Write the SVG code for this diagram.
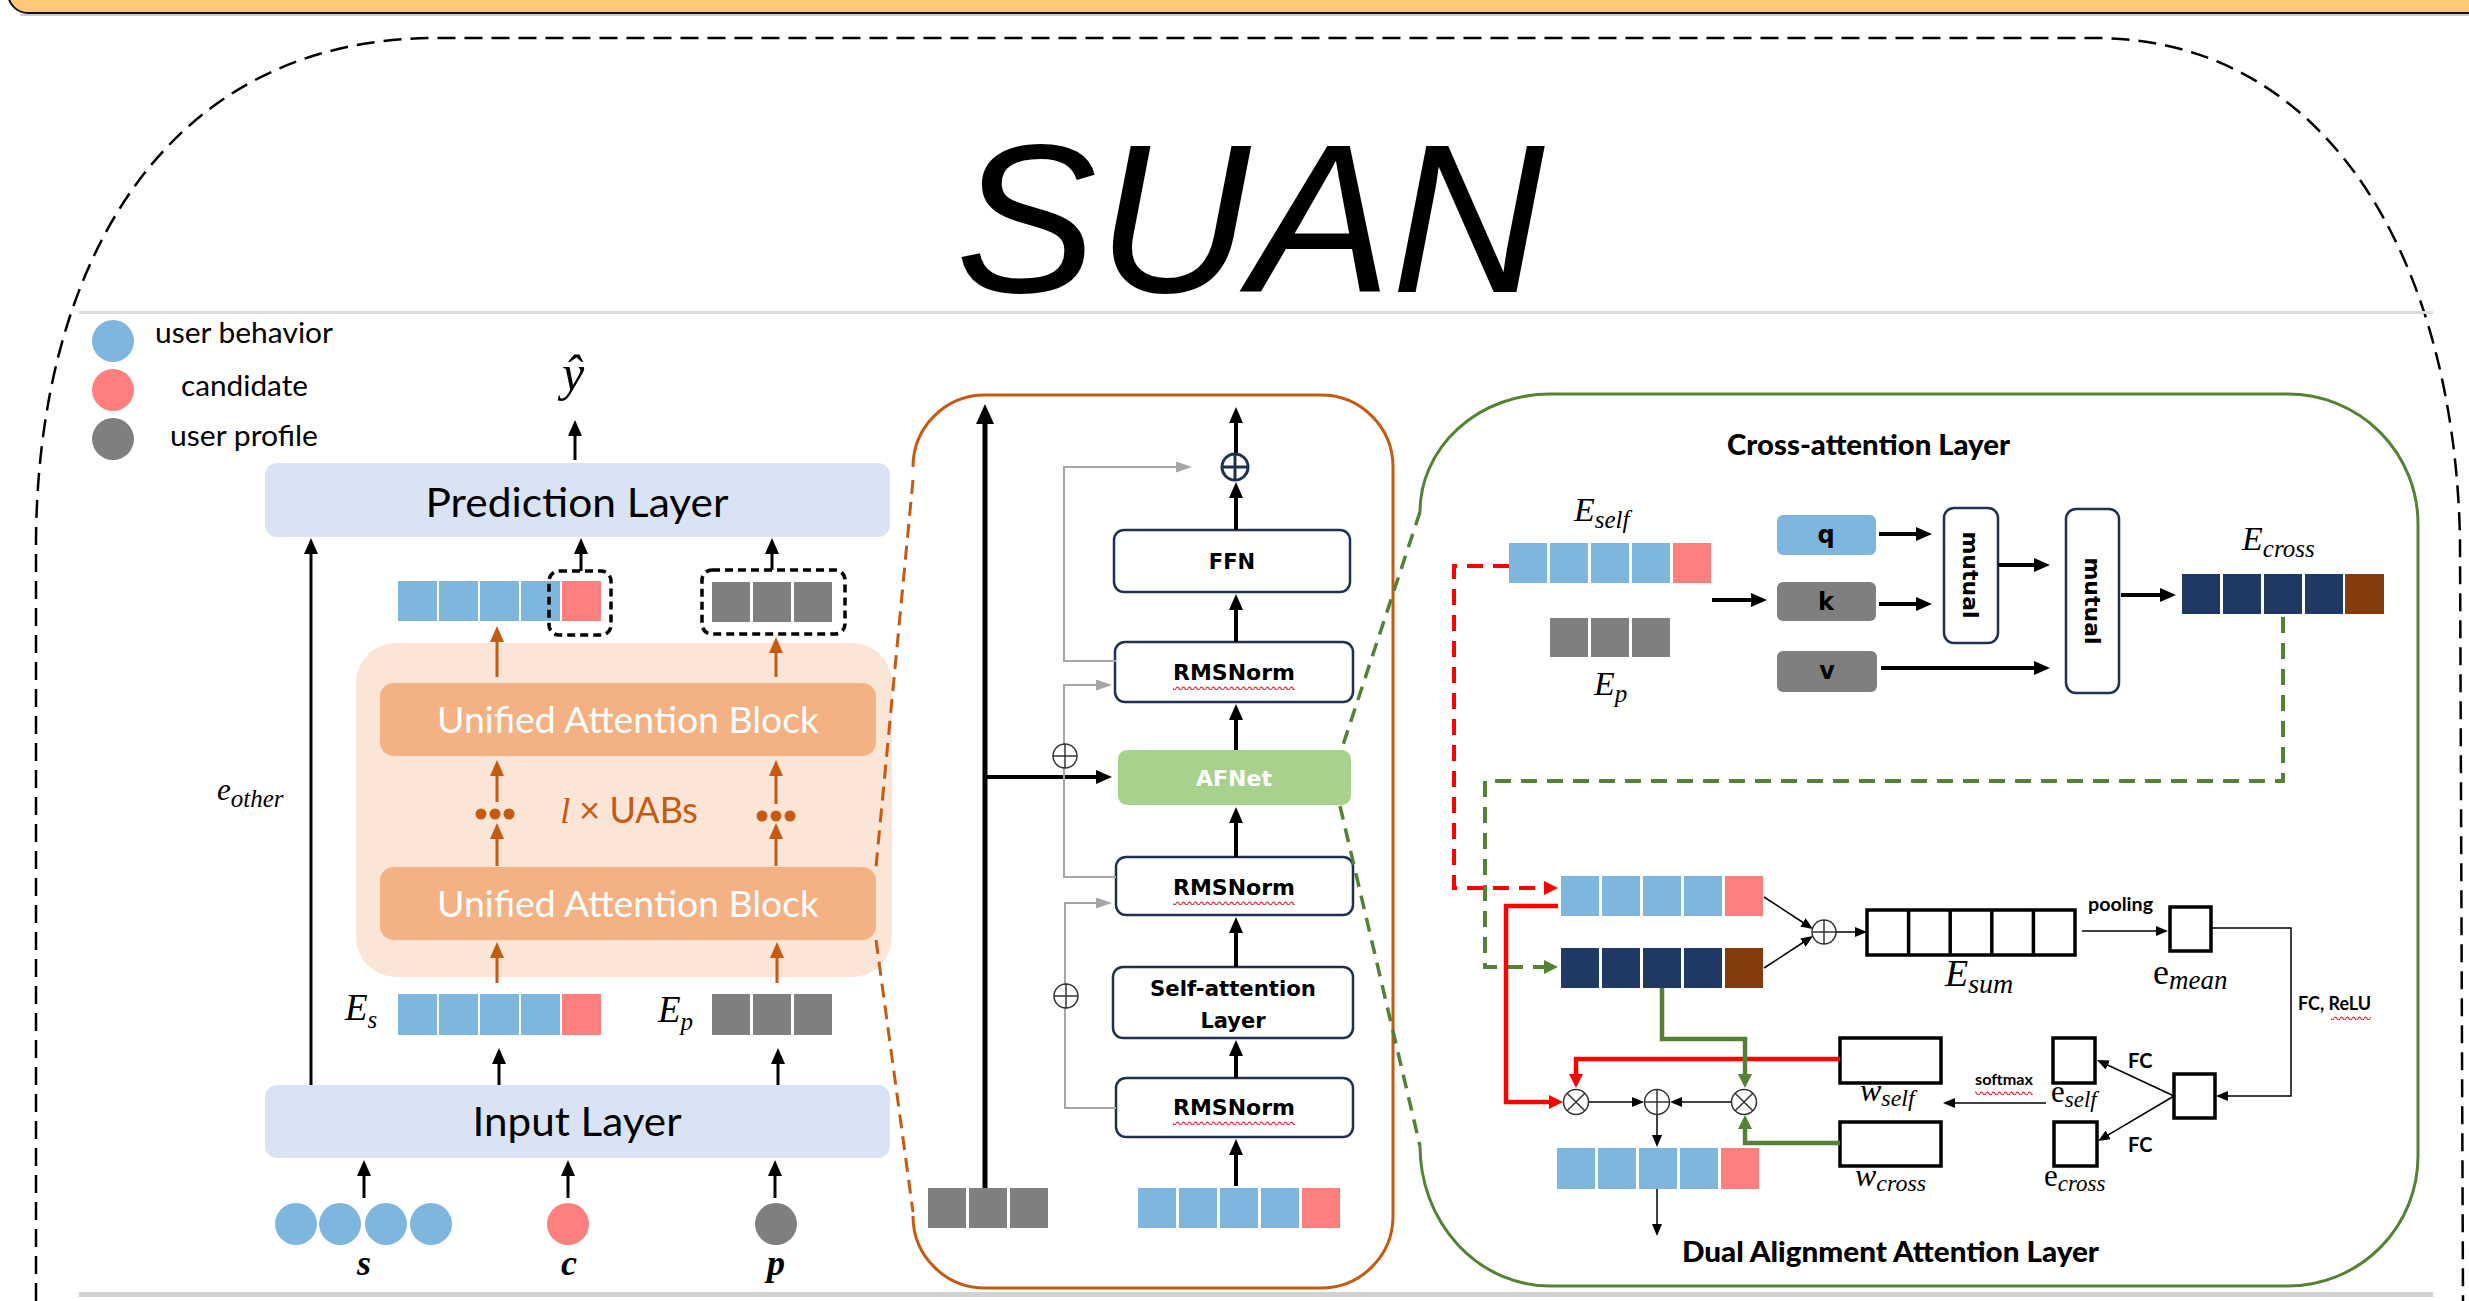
<svg xmlns="http://www.w3.org/2000/svg" width="2469" height="1301" viewBox="0 0 2469 1301">
<defs>
  <marker id="a-k" viewBox="0 0 16 14" markerWidth="16" markerHeight="14" refX="3" refY="7" orient="auto" markerUnits="userSpaceOnUse"><path d="M0 0 L16 7 L0 14 z" fill="#000"/></marker>
  <marker id="a-kb" viewBox="0 0 20 18" markerWidth="20" markerHeight="18" refX="3" refY="9" orient="auto" markerUnits="userSpaceOnUse"><path d="M0 0 L20 9 L0 18 z" fill="#000"/></marker>
  <marker id="a-ks" viewBox="0 0 12 10" markerWidth="12" markerHeight="10" refX="2" refY="5" orient="auto" markerUnits="userSpaceOnUse"><path d="M0 0 L12 5 L0 10 z" fill="#000"/></marker>
  <marker id="a-o" viewBox="0 0 16 14" markerWidth="16" markerHeight="14" refX="3" refY="7" orient="auto" markerUnits="userSpaceOnUse"><path d="M0 0 L16 7 L0 14 z" fill="#C55A11"/></marker>
  <marker id="a-g" viewBox="0 0 16 11" markerWidth="16" markerHeight="11" refX="2" refY="5.5" orient="auto" markerUnits="userSpaceOnUse"><path d="M0 0 L16 5.5 L0 11 z" fill="#A6A6A6"/></marker>
  <marker id="a-r" viewBox="0 0 14 14" markerWidth="14" markerHeight="14" refX="3" refY="7" orient="auto" markerUnits="userSpaceOnUse"><path d="M0 0 L14 7 L0 14 z" fill="#FF0000"/></marker>
  <marker id="a-gr" viewBox="0 0 14 14" markerWidth="14" markerHeight="14" refX="3" refY="7" orient="auto" markerUnits="userSpaceOnUse"><path d="M0 0 L14 7 L0 14 z" fill="#548235"/></marker>
  <pattern id="wavy" width="6" height="5" patternUnits="userSpaceOnUse"><path d="M0 3.5 Q1.5 0.8 3 3.5 T6 3.5" fill="none" stroke="#E8202A" stroke-width="1.1"/></pattern>
</defs>
<style>
  .lbl{font-family:Lato,"Open Sans","Liberation Sans",sans-serif;}
  .math{font-family:"Liberation Serif",serif;font-style:italic;}
  .up{font-family:"Liberation Serif",serif;font-style:normal;}
  .bx{font-family:"DejaVu Sans",sans-serif;font-weight:bold;}
  .blue{fill:#7FB6DE}.red{fill:#FF7F7F}.gray{fill:#7F7F7F}.navy{fill:#203864}.brown{fill:#843C0C}
  .layer{fill:#DAE3F3}
  .uab{fill:#F4B183}
  .nbox{fill:#fff;stroke:#1F3050;stroke-width:2.5}
  .obox{fill:#fff;stroke:#000;stroke-width:3.5}
  .ka{stroke:#000;stroke-width:3;fill:none;marker-end:url(#a-k)}
  .kt{stroke:#000;stroke-width:4;fill:none;marker-end:url(#a-k)}
  .ks{stroke:#000;stroke-width:1.5;fill:none;marker-end:url(#a-ks)}
  .oa{stroke:#C55A11;stroke-width:3;fill:none;marker-end:url(#a-o)}
  .ga{stroke:#A6A6A6;stroke-width:2;fill:none;marker-end:url(#a-g)}
  .rl{stroke:#FF0000;stroke-width:4.5;fill:none;marker-end:url(#a-r)}
  .gl{stroke:#548235;stroke-width:4.5;fill:none;marker-end:url(#a-gr)}
  .dash-o{stroke:#C55A11;stroke-width:3;fill:none;stroke-dasharray:14 8}
  .dash-g{stroke:#548235;stroke-width:3.5;fill:none;stroke-dasharray:14 9}
  .op{fill:#fff;stroke:#333;stroke-width:1.5}
</style>

<!-- page furniture -->
<rect x="8" y="-30" width="2500" height="43" rx="20" fill="#FFC878" stroke="#111" stroke-width="2"/>
<line x1="20" y1="15" x2="2469" y2="15" stroke="#bbb" stroke-width="1.5"/>
<path d="M36 1301 L36 540 C38 270 160 42 430 38 L2100 38 C2335 42 2455 270 2460 540 L2463 1301" fill="none" stroke="#000" stroke-width="2.5" stroke-dasharray="18 9"/>
<text x="1250" y="292" font-family="'Liberation Sans',Arial,sans-serif" font-style="italic" font-size="212" text-anchor="middle" fill="#000">SUAN</text>
<rect x="79" y="311" width="2354" height="3" fill="#DCDCDC"/>
<rect x="79" y="1292" width="2354" height="5" fill="#D2D2D2"/>

<!-- legend -->
<g id="legend">
  <circle cx="113" cy="341" r="21" class="blue"/>
  <circle cx="113" cy="390" r="21" class="red"/>
  <circle cx="113" cy="439" r="21" class="gray"/>
  <text class="lbl" x="155" y="343" font-size="28" textLength="178" lengthAdjust="spacingAndGlyphs">user behavior</text>
  <text class="lbl" x="181" y="396" font-size="28" textLength="127" lengthAdjust="spacingAndGlyphs">candidate</text>
  <text class="lbl" x="170" y="446" font-size="28" textLength="148" lengthAdjust="spacingAndGlyphs">user profile</text>
</g>

<!-- left: overall model -->
<g id="y-hat"><text class="math" x="573" y="390" font-size="50" text-anchor="middle">ŷ</text></g>
<g id="prediction-layer">
  <rect x="265" y="463" width="625" height="74" rx="12" class="layer"/>
  <text class="lbl" x="577" y="517" font-size="41" text-anchor="middle" textLength="303" lengthAdjust="spacingAndGlyphs">Prediction Layer</text>
</g>
<g id="out-seq">
  <rect x="398" y="581" width="39" height="40" class="blue"/>
  <rect x="439" y="581" width="39" height="40" class="blue"/>
  <rect x="480" y="581" width="39" height="40" class="blue"/>
  <rect x="521" y="581" width="39" height="40" class="blue"/>
  <rect x="562" y="581" width="39" height="40" class="red"/>
  <rect x="549" y="571" width="62" height="64" rx="10" fill="none" stroke="#000" stroke-width="3.5" stroke-dasharray="8 5"/>
</g>
<g id="out-profile">
  <rect x="712" y="582" width="38" height="40" class="gray"/>
  <rect x="753" y="582" width="38" height="40" class="gray"/>
  <rect x="794" y="582" width="38" height="40" class="gray"/>
  <rect x="702" y="570" width="143" height="64" rx="10" fill="none" stroke="#000" stroke-width="3.5" stroke-dasharray="8 5"/>
</g>
<g id="uab-stack">
  <rect x="356" y="643" width="536" height="334" rx="40" fill="#FBE5D6"/>
  <circle cx="481" cy="814" r="5.5" fill="#C55A11"/><circle cx="495" cy="814" r="5.5" fill="#C55A11"/><circle cx="509" cy="814" r="5.5" fill="#C55A11"/>
  <circle cx="762" cy="816" r="5.5" fill="#C55A11"/><circle cx="776" cy="816" r="5.5" fill="#C55A11"/><circle cx="790" cy="816" r="5.5" fill="#C55A11"/>
  <text x="629" y="823" font-size="36" fill="#C55A11" text-anchor="middle"><tspan class="math">l</tspan><tspan class="lbl"> × UABs</tspan></text>
</g>
<g id="uab-1">
  <rect x="380" y="683" width="496" height="73" rx="14" class="uab"/>
  <text class="lbl" x="628" y="733" font-size="37" fill="#fff" text-anchor="middle" textLength="382" lengthAdjust="spacingAndGlyphs">Unified Attention Block</text>
</g>
<g id="uab-2">
  <rect x="380" y="867" width="496" height="73" rx="14" class="uab"/>
  <text class="lbl" x="628" y="917" font-size="37" fill="#fff" text-anchor="middle" textLength="382" lengthAdjust="spacingAndGlyphs">Unified Attention Block</text>
</g>
<g id="emb-s">
  <text class="math" x="345" y="1020" font-size="37">E<tspan font-size="25" dy="8">s</tspan></text>
  <rect x="398" y="994" width="39" height="41" class="blue"/>
  <rect x="439" y="994" width="39" height="41" class="blue"/>
  <rect x="480" y="994" width="39" height="41" class="blue"/>
  <rect x="521" y="994" width="39" height="41" class="blue"/>
  <rect x="562" y="994" width="39" height="41" class="red"/>
</g>
<g id="emb-p">
  <text class="math" x="658" y="1022" font-size="37">E<tspan font-size="25" dy="8">p</tspan></text>
  <rect x="712" y="994" width="38" height="41" class="gray"/>
  <rect x="753" y="994" width="38" height="41" class="gray"/>
  <rect x="794" y="994" width="38" height="41" class="gray"/>
</g>
<g id="input-layer">
  <rect x="265" y="1085" width="625" height="73" rx="12" class="layer"/>
  <text class="lbl" x="577" y="1136" font-size="41" text-anchor="middle" textLength="209" lengthAdjust="spacingAndGlyphs">Input Layer</text>
</g>
<g id="inputs">
  <circle cx="296" cy="1224" r="21" class="blue"/>
  <circle cx="340" cy="1224" r="21" class="blue"/>
  <circle cx="386" cy="1224" r="21" class="blue"/>
  <circle cx="431" cy="1224" r="21" class="blue"/>
  <circle cx="568" cy="1224" r="21" class="red"/>
  <circle cx="776" cy="1224" r="21" class="gray"/>
  <text class="math" x="364" y="1275" font-size="36" font-weight="bold" text-anchor="middle">s</text>
  <text class="math" x="569" y="1275" font-size="36" font-weight="bold" text-anchor="middle">c</text>
  <text class="math" x="776" y="1275" font-size="36" font-weight="bold" text-anchor="middle">p</text>
</g>
<g id="e-other-label"><text class="math" x="217" y="800" font-size="31">e<tspan font-size="25" dy="7">other</tspan></text></g>

<!-- middle: unified attention block detail -->
<g id="uab-detail">
  <path d="M913 467 A72 72 0 0 1 985 395 L1321 395 A72 72 0 0 1 1393 467 L1393 1216 A72 72 0 0 1 1321 1288 L985 1288 A72 72 0 0 1 913 1216" fill="none" stroke="#C55A11" stroke-width="3"/>
</g>
<g id="uab-profile-in">
  <rect x="928" y="1188" width="38" height="40" class="gray"/>
  <rect x="969" y="1188" width="38" height="40" class="gray"/>
  <rect x="1010" y="1188" width="38" height="40" class="gray"/>
</g>
<g id="uab-seq-in">
  <rect x="1138" y="1188" width="38" height="40" class="blue"/>
  <rect x="1179" y="1188" width="38" height="40" class="blue"/>
  <rect x="1220" y="1188" width="38" height="40" class="blue"/>
  <rect x="1261" y="1188" width="38" height="40" class="blue"/>
  <rect x="1302" y="1188" width="38" height="40" class="red"/>
</g>
<g id="rmsnorm-1">
  <rect x="1116" y="1078" width="237" height="59" rx="10" class="nbox"/>
  <text class="bx" x="1234" y="1115" font-size="22" text-anchor="middle">RMSNorm</text>
  <rect x="1173" y="1120" width="122" height="5" fill="url(#wavy)"/>
</g>
<g id="self-attention">
  <rect x="1113" y="967" width="240" height="71" rx="10" class="nbox"/>
  <text class="bx" x="1233" y="996" font-size="21" text-anchor="middle" textLength="166" lengthAdjust="spacingAndGlyphs">Self-attention</text>
  <text class="bx" x="1233" y="1028" font-size="21" text-anchor="middle">Layer</text>
</g>
<g id="rmsnorm-2">
  <rect x="1116" y="857" width="237" height="58" rx="10" class="nbox"/>
  <text class="bx" x="1234" y="895" font-size="22" text-anchor="middle">RMSNorm</text>
  <rect x="1173" y="900" width="122" height="5" fill="url(#wavy)"/>
</g>
<g id="afnet">
  <rect x="1118" y="750" width="233" height="55" rx="9" fill="#A9D18E"/>
  <text class="bx" x="1234" y="786" font-size="22" fill="#fff" text-anchor="middle">AFNet</text>
</g>
<g id="rmsnorm-3">
  <rect x="1115" y="642" width="238" height="60" rx="10" class="nbox"/>
  <text class="bx" x="1234" y="680" font-size="22" text-anchor="middle">RMSNorm</text>
  <rect x="1173" y="685" width="122" height="5" fill="url(#wavy)"/>
</g>
<g id="ffn">
  <rect x="1114" y="530" width="236" height="62" rx="10" class="nbox"/>
  <text class="bx" x="1232" y="569" font-size="21" text-anchor="middle">FFN</text>
</g>

<!-- right: cross-attention + dual alignment -->
<g id="afnet-detail">
  <path d="M1420 512 A130 118 0 0 1 1550 394 L2288 394 A130 130 0 0 1 2418 524 L2418 1156 A130 130 0 0 1 2288 1286 L1550 1286 A130 140 0 0 1 1420 1146" fill="none" stroke="#548235" stroke-width="3"/>
  <text class="lbl" x="1727" y="455" font-size="28" font-weight="900" textLength="283" lengthAdjust="spacingAndGlyphs">Cross-attention Layer</text>
  <text class="lbl" x="1682" y="1262" font-size="29" font-weight="900" textLength="417" lengthAdjust="spacingAndGlyphs">Dual Alignment Attention Layer</text>
</g>
<g id="e-self">
  <text class="math" x="1574" y="521" font-size="34">E<tspan font-size="25" dy="7">self</tspan></text>
  <rect x="1509" y="543" width="38" height="40" class="blue"/>
  <rect x="1550" y="543" width="38" height="40" class="blue"/>
  <rect x="1591" y="543" width="38" height="40" class="blue"/>
  <rect x="1632" y="543" width="38" height="40" class="blue"/>
  <rect x="1673" y="543" width="38" height="40" class="red"/>
</g>
<g id="e-p">
  <rect x="1550" y="618" width="38" height="39" class="gray"/>
  <rect x="1591" y="618" width="38" height="39" class="gray"/>
  <rect x="1632" y="618" width="38" height="39" class="gray"/>
  <text class="math" x="1594" y="695" font-size="34">E<tspan font-size="25" dy="7">p</tspan></text>
</g>
<g id="q"><rect x="1777" y="515" width="99" height="40" rx="6" class="blue"/><text class="bx" x="1826" y="543" font-size="24" text-anchor="middle">q</text></g>
<g id="k"><rect x="1777" y="582" width="99" height="39" rx="6" class="gray"/><text class="bx" x="1826" y="610" font-size="24" text-anchor="middle">k</text></g>
<g id="v"><rect x="1777" y="651" width="100" height="41" rx="6" class="gray"/><text class="bx" x="1827" y="679" font-size="24" text-anchor="middle">v</text></g>
<g id="mutual-1">
  <rect x="1944" y="508" width="54" height="135" rx="10" class="nbox"/>
  <text class="bx" font-size="22" text-anchor="middle" transform="translate(1963 575) rotate(90)">mutual</text>
</g>
<g id="mutual-2">
  <rect x="2066" y="509" width="53" height="184" rx="10" class="nbox"/>
  <text class="bx" font-size="22" text-anchor="middle" transform="translate(2085 601) rotate(90)">mutual</text>
</g>
<g id="e-cross">
  <text class="math" x="2242" y="550" font-size="34">E<tspan font-size="25" dy="7">cross</tspan></text>
  <rect x="2182" y="574" width="38" height="40" class="navy"/>
  <rect x="2223" y="574" width="38" height="40" class="navy"/>
  <rect x="2264" y="574" width="38" height="40" class="navy"/>
  <rect x="2305" y="574" width="38" height="40" class="navy"/>
  <rect x="2345" y="574" width="39" height="40" class="brown"/>
</g>
<g id="daa-self">
  <rect x="1561" y="876" width="38" height="40" class="blue"/>
  <rect x="1602" y="876" width="38" height="40" class="blue"/>
  <rect x="1643" y="876" width="38" height="40" class="blue"/>
  <rect x="1684" y="876" width="38" height="40" class="blue"/>
  <rect x="1725" y="876" width="38" height="40" class="red"/>
</g>
<g id="daa-cross">
  <rect x="1561" y="948" width="38" height="40" class="navy"/>
  <rect x="1602" y="948" width="38" height="40" class="navy"/>
  <rect x="1643" y="948" width="38" height="40" class="navy"/>
  <rect x="1684" y="948" width="38" height="40" class="navy"/>
  <rect x="1725" y="948" width="38" height="40" class="brown"/>
</g>
<g id="e-sum">
  <rect x="1867" y="910" width="208" height="45" class="obox"/>
  <path d="M1908.6 910 V955 M1950.2 910 V955 M1991.8 910 V955 M2033.4 910 V955" stroke="#000" stroke-width="3.5"/>
  <text class="math" x="1945" y="986" font-size="38">E<tspan font-size="28" dy="7">sum</tspan></text>
</g>
<g id="e-mean">
  <rect x="2170" y="907" width="41" height="44" class="obox"/>
  <text x="2153" y="984" font-size="36"><tspan class="up">e</tspan><tspan class="math" font-size="27" dy="5">mean</tspan></text>
</g>
<g id="fc-hidden"><rect x="2174" y="1074" width="41" height="44" class="obox"/></g>
<g id="e-self-w">
  <rect x="2053" y="1038" width="42" height="45" class="obox"/>
  <text x="2051" y="1102" font-size="31"><tspan class="up">e</tspan><tspan class="math" font-size="23" dy="5">self</tspan></text>
</g>
<g id="e-cross-w">
  <rect x="2054" y="1122" width="43" height="44" class="obox"/>
  <text x="2044" y="1186" font-size="31"><tspan class="up">e</tspan><tspan class="math" font-size="23" dy="5">cross</tspan></text>
</g>
<g id="w-self">
  <rect x="1840" y="1038" width="101" height="45" class="obox"/>
  <text class="math" x="1860" y="1101" font-size="32">w<tspan font-size="24" dy="5">self</tspan></text>
</g>
<g id="w-cross">
  <rect x="1840" y="1122" width="101" height="44" class="obox"/>
  <text class="math" x="1855" y="1186" font-size="32">w<tspan font-size="24" dy="5">cross</tspan></text>
</g>
<g id="daa-out">
  <rect x="1557" y="1148" width="38" height="41" class="blue"/>
  <rect x="1598" y="1148" width="38" height="41" class="blue"/>
  <rect x="1639" y="1148" width="38" height="41" class="blue"/>
  <rect x="1680" y="1148" width="38" height="41" class="blue"/>
  <rect x="1721" y="1148" width="38" height="41" class="red"/>
</g>
<g id="edge-labels">
  <text class="lbl" x="2088" y="911" font-size="18" font-weight="bold" textLength="65" lengthAdjust="spacingAndGlyphs">pooling</text>
  <text class="lbl" x="2298" y="1010" font-size="18" font-weight="bold" textLength="73" lengthAdjust="spacingAndGlyphs">FC, ReLU</text>
  <rect x="2331" y="1015" width="40" height="5" fill="url(#wavy)"/>
  <text class="lbl" x="2128" y="1068" font-size="20" font-weight="bold">FC</text>
  <text class="lbl" x="2128" y="1152" font-size="20" font-weight="bold">FC</text>
  <text class="lbl" x="1975" y="1085" font-size="16" font-weight="bold" textLength="58" lengthAdjust="spacingAndGlyphs">softmax</text>
  <rect x="1975" y="1090" width="58" height="5" fill="url(#wavy)"/>
</g>

<!-- connectors -->
<g id="connectors">
  <!-- zoom-in callouts -->
  <path d="M913 480 L876 867 M876 940 L913 1212" class="dash-o"/>
  <path d="M1420 512 L1342 748 M1340 806 L1420 1146" class="dash-g"/>

  <!-- left column -->
  <line x1="575" y1="460" x2="575" y2="433" class="ka"/>
  <line x1="311" y1="1085" x2="311" y2="551" class="ka"/>
  <line x1="581" y1="571" x2="581" y2="551" class="ka"/>
  <line x1="772" y1="570" x2="772" y2="551" class="ka"/>
  <line x1="497" y1="677" x2="497" y2="639" class="oa"/>
  <line x1="776" y1="677" x2="776" y2="650" class="oa"/>
  <line x1="497" y1="802" x2="497" y2="773" class="oa"/>
  <line x1="776" y1="804" x2="776" y2="773" class="oa"/>
  <line x1="497" y1="866" x2="497" y2="836" class="oa"/>
  <line x1="776" y1="866" x2="776" y2="836" class="oa"/>
  <line x1="497" y1="983" x2="497" y2="955" class="oa"/>
  <line x1="777" y1="983" x2="777" y2="955" class="oa"/>
  <line x1="499" y1="1085" x2="499" y2="1061" class="ka"/>
  <line x1="778" y1="1085" x2="778" y2="1061" class="ka"/>
  <line x1="364" y1="1198" x2="364" y2="1173" class="ka"/>
  <line x1="568" y1="1198" x2="568" y2="1173" class="ka"/>
  <line x1="775" y1="1198" x2="775" y2="1173" class="ka"/>

  <!-- block internals -->
  <line x1="985" y1="1188" x2="985" y2="421" stroke="#000" stroke-width="5" marker-end="url(#a-kb)"/>
  <line x1="985" y1="777" x2="1099" y2="777" class="kt"/>
  <line x1="1236" y1="1186" x2="1236" y2="1152" class="kt"/>
  <line x1="1236" y1="1078" x2="1236" y2="1053" class="kt"/>
  <line x1="1236" y1="967" x2="1236" y2="930" class="kt"/>
  <line x1="1236" y1="857" x2="1236" y2="820" class="kt"/>
  <line x1="1236" y1="750" x2="1236" y2="717" class="kt"/>
  <line x1="1236" y1="642" x2="1236" y2="607" class="kt"/>
  <line x1="1236" y1="530" x2="1236" y2="495" class="kt"/>
  <line x1="1236" y1="454" x2="1236" y2="420" class="kt"/>
  <path d="M1116 1108 H1065 V903 H1098" class="ga"/>
  <path d="M1116 877 H1064 V685 H1098" class="ga"/>
  <path d="M1116 661 H1064 V467 H1178" class="ga"/>
  <g id="add-top"><circle cx="1235" cy="467" r="13" fill="#fff" stroke="#1F3050" stroke-width="3"/><path d="M1222 467 H1248 M1235 454 V480" stroke="#1F3050" stroke-width="3"/></g>
  <g id="add-res-1"><circle cx="1066" cy="996" r="12" class="op"/><path d="M1054 996 H1078 M1066 984 V1008" stroke="#333" stroke-width="1.5"/></g>
  <g id="add-res-2"><circle cx="1065" cy="756" r="12" class="op"/><path d="M1053 756 H1077 M1065 744 V768" stroke="#333" stroke-width="1.5"/></g>

  <!-- cross-attention -->
  <line x1="1712" y1="600" x2="1754" y2="600" class="kt"/>
  <line x1="1879" y1="534" x2="1919" y2="534" class="kt"/>
  <line x1="1879" y1="604" x2="1919" y2="604" class="kt"/>
  <line x1="1881" y1="668" x2="2037" y2="668" class="kt"/>
  <line x1="1998" y1="565" x2="2037" y2="565" class="kt"/>
  <line x1="2121" y1="595" x2="2163" y2="595" class="kt"/>
  <path d="M1509 566 H1454 V888 H1547" fill="none" stroke="#FF0000" stroke-width="4" stroke-dasharray="16 10" marker-end="url(#a-r)"/>
  <path d="M2283 617 V781 H1485 V967 H1547" fill="none" stroke="#548235" stroke-width="4" stroke-dasharray="16 10" marker-end="url(#a-gr)"/>

  <!-- dual alignment -->
  <line x1="1764" y1="897" x2="1804.6" y2="923.5" class="ks"/>
  <line x1="1764" y1="968" x2="1804.6" y2="941.5" class="ks"/>
  <line x1="1836" y1="932" x2="1857" y2="932" class="ks"/>
  <line x1="2082" y1="931" x2="2158" y2="931" class="ks"/>
  <path d="M2211 928 H2291 V1096 H2226" class="ks" stroke="#333"/>
  <line x1="2174" y1="1096" x2="2106" y2="1064.2" class="ks"/>
  <line x1="2174" y1="1096" x2="2106.6" y2="1135.9" class="ks"/>
  <line x1="2046" y1="1103" x2="1953" y2="1103" class="ks"/>
  <path d="M1840 1059 H1576 V1077" class="rl"/>
  <path d="M1558 906 H1506 V1102 H1552" class="rl"/>
  <path d="M1662 988 V1039 H1745 V1077" class="gl"/>
  <path d="M1840 1143 H1745 V1126" class="gl"/>
  <line x1="1589" y1="1102" x2="1634" y2="1102" class="ks"/>
  <line x1="1731" y1="1102" x2="1680" y2="1102" class="ks"/>
  <line x1="1657" y1="1115" x2="1657" y2="1137" class="ks"/>
  <line x1="1657" y1="1189" x2="1657" y2="1226" class="ks"/>
  <g id="sum-op"><circle cx="1824" cy="932" r="12" class="op"/><path d="M1812 932 H1836 M1824 920 V944" stroke="#333" stroke-width="1.5"/></g>
  <g id="mul-self"><circle cx="1576" cy="1102" r="12.5" class="op"/><path d="M1567.2 1093.2 L1584.8 1110.8 M1584.8 1093.2 L1567.2 1110.8" stroke="#333" stroke-width="1.5"/></g>
  <g id="mul-cross"><circle cx="1744" cy="1102" r="12.5" class="op"/><path d="M1735.2 1093.2 L1752.8 1110.8 M1752.8 1093.2 L1735.2 1110.8" stroke="#333" stroke-width="1.5"/></g>
  <g id="add-out"><circle cx="1657" cy="1102" r="12.5" class="op"/><path d="M1644.5 1102 H1669.5 M1657 1089.5 V1114.5" stroke="#333" stroke-width="1.5"/></g>
</g>
</svg>
